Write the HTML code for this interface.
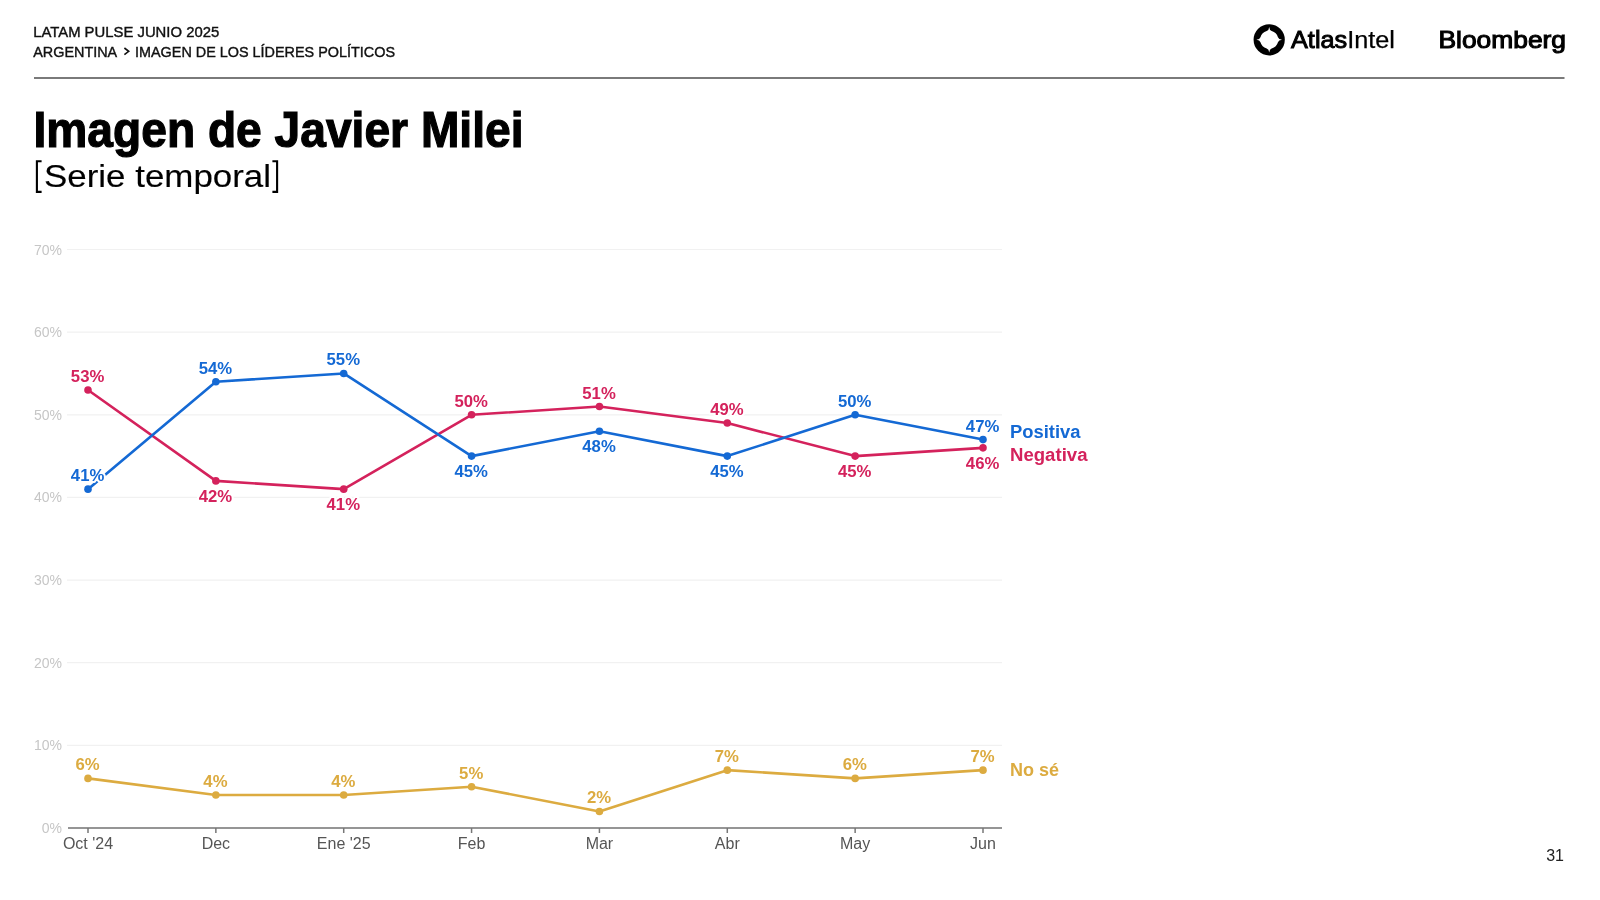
<!DOCTYPE html>
<html><head><meta charset="utf-8">
<style>
html,body{margin:0;padding:0;background:#fff;}
body{width:1600px;height:900px;overflow:hidden;position:relative;font-family:"Liberation Sans",sans-serif;}
svg{position:absolute;left:0;top:0;will-change:transform;}
.hd{font-size:15.2px;fill:#111;stroke:#111;stroke-width:0.4}
.yl{font-size:14px;fill:#c6c6c6;}
.xl{font-size:16px;fill:#555;}
.dl{font-size:16px;font-weight:bold;}
.halo{fill:#fff;stroke:#fff;stroke-width:4;stroke-linejoin:round;}
.lg{font-size:18px;font-weight:bold;}
</style></head>
<body>
<svg width="1600" height="900" viewBox="0 0 1600 900">
<text x="33.2" y="36.8" class="hd" textLength="186" lengthAdjust="spacingAndGlyphs">LATAM PULSE JUNIO 2025</text>
<text x="33.2" y="56.8" class="hd" textLength="84" lengthAdjust="spacingAndGlyphs">ARGENTINA</text>
<polyline points="124.4,48.0 128.7,51.3 124.4,54.6" fill="none" stroke="#111" stroke-width="1.6"/>
<text x="135" y="56.8" class="hd" textLength="260" lengthAdjust="spacingAndGlyphs">IMAGEN DE LOS LÍDERES POLÍTICOS</text>
<rect x="34" y="77" width="1530.5" height="2" fill="#7a7a7a"/>
<text x="33.5" y="147.3" style="font-size:49.5px;font-weight:bold;fill:#000;stroke:#000;stroke-width:1.2" textLength="490" lengthAdjust="spacingAndGlyphs">Imagen de Javier Milei</text>
<path d="M41.6,161.2 H36.9 V191.9 H41.6 M272.4,161.2 H277.1 V191.9 H272.4" fill="none" stroke="#000" stroke-width="2.1"/>
<text x="44" y="187.0" style="font-size:32px;fill:#000;stroke:#000;stroke-width:0.15" textLength="227" lengthAdjust="spacingAndGlyphs">Serie temporal</text>
<!-- AtlasIntel logo -->
<g transform="translate(1269.2,39.8)">
<circle r="15.6" fill="#000"/>
<path d="M0,-12.8 Q0.30,-9.40 2.51,-8.75 A9.1,9.1 0 0 1 8.75,-2.51 Q9.40,-0.30 12.80,0.00 Q9.40,0.30 8.75,2.51 A9.1,9.1 0 0 1 2.51,8.75 Q0.30,9.40 0.00,12.80 Q-0.30,9.40 -2.51,8.75 A9.1,9.1 0 0 1 -8.75,2.51 Q-9.40,0.30 -12.80,0.00 Q-9.40,-0.30 -8.75,-2.51 A9.1,9.1 0 0 1 -2.51,-8.75 Q-0.30,-9.40 0.00,-12.80 Z" fill="#fff"/>
</g>
<text x="1291" y="48" style="font-size:23px;fill:#000" textLength="104" lengthAdjust="spacingAndGlyphs"><tspan style="stroke:#000;stroke-width:0.9">Atlas</tspan><tspan style="stroke:#000;stroke-width:0.25">Intel</tspan></text>
<text x="1438.5" y="47.5" style="font-size:24.5px;fill:#000;stroke:#000;stroke-width:1.1" textLength="127.5" lengthAdjust="spacingAndGlyphs">Bloomberg</text>
<text x="1564" y="861" text-anchor="end" style="font-size:16px;fill:#222">31</text>
<line x1="67" y1="745.36" x2="1002" y2="745.36" stroke="#f1f1f1" stroke-width="1.2"/>
<line x1="67" y1="662.71" x2="1002" y2="662.71" stroke="#f1f1f1" stroke-width="1.2"/>
<line x1="67" y1="580.07" x2="1002" y2="580.07" stroke="#f1f1f1" stroke-width="1.2"/>
<line x1="67" y1="497.43" x2="1002" y2="497.43" stroke="#f1f1f1" stroke-width="1.2"/>
<line x1="67" y1="414.79" x2="1002" y2="414.79" stroke="#f1f1f1" stroke-width="1.2"/>
<line x1="67" y1="332.14" x2="1002" y2="332.14" stroke="#f1f1f1" stroke-width="1.2"/>
<line x1="67" y1="249.50" x2="1002" y2="249.50" stroke="#f1f1f1" stroke-width="1.2"/>
<text x="62" y="833.00" text-anchor="end" class="yl">0%</text>
<text x="62" y="750.36" text-anchor="end" class="yl">10%</text>
<text x="62" y="667.71" text-anchor="end" class="yl">20%</text>
<text x="62" y="585.07" text-anchor="end" class="yl">30%</text>
<text x="62" y="502.43" text-anchor="end" class="yl">40%</text>
<text x="62" y="419.79" text-anchor="end" class="yl">50%</text>
<text x="62" y="337.14" text-anchor="end" class="yl">60%</text>
<text x="62" y="254.50" text-anchor="end" class="yl">70%</text>
<line x1="68" y1="828.0" x2="1002" y2="828.0" stroke="#727272" stroke-width="1.7"/>
<line x1="88.00" y1="828.0" x2="88.00" y2="833.0" stroke="#777" stroke-width="1.5"/>
<text x="88.00" y="848.50" text-anchor="middle" class="xl">Oct '24</text>
<line x1="215.86" y1="828.0" x2="215.86" y2="833.0" stroke="#777" stroke-width="1.5"/>
<text x="215.86" y="848.50" text-anchor="middle" class="xl">Dec</text>
<line x1="343.71" y1="828.0" x2="343.71" y2="833.0" stroke="#777" stroke-width="1.5"/>
<text x="343.71" y="848.50" text-anchor="middle" class="xl">Ene '25</text>
<line x1="471.57" y1="828.0" x2="471.57" y2="833.0" stroke="#777" stroke-width="1.5"/>
<text x="471.57" y="848.50" text-anchor="middle" class="xl">Feb</text>
<line x1="599.43" y1="828.0" x2="599.43" y2="833.0" stroke="#777" stroke-width="1.5"/>
<text x="599.43" y="848.50" text-anchor="middle" class="xl">Mar</text>
<line x1="727.29" y1="828.0" x2="727.29" y2="833.0" stroke="#777" stroke-width="1.5"/>
<text x="727.29" y="848.50" text-anchor="middle" class="xl">Abr</text>
<line x1="855.14" y1="828.0" x2="855.14" y2="833.0" stroke="#777" stroke-width="1.5"/>
<text x="855.14" y="848.50" text-anchor="middle" class="xl">May</text>
<line x1="983.00" y1="828.0" x2="983.00" y2="833.0" stroke="#777" stroke-width="1.5"/>
<text x="983.00" y="848.50" text-anchor="middle" class="xl">Jun</text>
<polyline points="88.00,778.41 215.86,794.94 343.71,794.94 471.57,786.68 599.43,811.47 727.29,770.15 855.14,778.41 983.00,770.15" fill="none" stroke="#dcab40" stroke-width="2.6" stroke-linejoin="round"/>
<circle cx="88.00" cy="778.41" r="3.8" fill="#dcab40"/>
<circle cx="215.86" cy="794.94" r="3.8" fill="#dcab40"/>
<circle cx="343.71" cy="794.94" r="3.8" fill="#dcab40"/>
<circle cx="471.57" cy="786.68" r="3.8" fill="#dcab40"/>
<circle cx="599.43" cy="811.47" r="3.8" fill="#dcab40"/>
<circle cx="727.29" cy="770.15" r="3.8" fill="#dcab40"/>
<circle cx="855.14" cy="778.41" r="3.8" fill="#dcab40"/>
<circle cx="983.00" cy="770.15" r="3.8" fill="#dcab40"/>
<polyline points="88.00,389.99 215.86,480.90 343.71,489.16 471.57,414.79 599.43,406.52 727.29,423.05 855.14,456.11 983.00,447.84" fill="none" stroke="#d4225c" stroke-width="2.6" stroke-linejoin="round"/>
<circle cx="88.00" cy="389.99" r="3.8" fill="#d4225c"/>
<circle cx="215.86" cy="480.90" r="3.8" fill="#d4225c"/>
<circle cx="343.71" cy="489.16" r="3.8" fill="#d4225c"/>
<circle cx="471.57" cy="414.79" r="3.8" fill="#d4225c"/>
<circle cx="599.43" cy="406.52" r="3.8" fill="#d4225c"/>
<circle cx="727.29" cy="423.05" r="3.8" fill="#d4225c"/>
<circle cx="855.14" cy="456.11" r="3.8" fill="#d4225c"/>
<circle cx="983.00" cy="447.84" r="3.8" fill="#d4225c"/>
<polyline points="88.00,489.16 215.86,381.73 343.71,373.46 471.57,456.11 599.43,431.31 727.29,456.11 855.14,414.79 983.00,439.58" fill="none" stroke="#1469d4" stroke-width="2.6" stroke-linejoin="round"/>
<circle cx="88.00" cy="489.16" r="3.8" fill="#1469d4"/>
<circle cx="215.86" cy="381.73" r="3.8" fill="#1469d4"/>
<circle cx="343.71" cy="373.46" r="3.8" fill="#1469d4"/>
<circle cx="471.57" cy="456.11" r="3.8" fill="#1469d4"/>
<circle cx="599.43" cy="431.31" r="3.8" fill="#1469d4"/>
<circle cx="727.29" cy="456.11" r="3.8" fill="#1469d4"/>
<circle cx="855.14" cy="414.79" r="3.8" fill="#1469d4"/>
<circle cx="983.00" cy="439.58" r="3.8" fill="#1469d4"/>
<text transform="translate(87.60,770.41) scale(1.045,1)" text-anchor="middle" class="dl halo">6%</text>
<text transform="translate(87.60,770.41) scale(1.045,1)" text-anchor="middle" class="dl" fill="#dcab40">6%</text>
<text transform="translate(215.46,786.94) scale(1.045,1)" text-anchor="middle" class="dl halo">4%</text>
<text transform="translate(215.46,786.94) scale(1.045,1)" text-anchor="middle" class="dl" fill="#dcab40">4%</text>
<text transform="translate(343.31,786.94) scale(1.045,1)" text-anchor="middle" class="dl halo">4%</text>
<text transform="translate(343.31,786.94) scale(1.045,1)" text-anchor="middle" class="dl" fill="#dcab40">4%</text>
<text transform="translate(471.17,778.68) scale(1.045,1)" text-anchor="middle" class="dl halo">5%</text>
<text transform="translate(471.17,778.68) scale(1.045,1)" text-anchor="middle" class="dl" fill="#dcab40">5%</text>
<text transform="translate(599.03,803.47) scale(1.045,1)" text-anchor="middle" class="dl halo">2%</text>
<text transform="translate(599.03,803.47) scale(1.045,1)" text-anchor="middle" class="dl" fill="#dcab40">2%</text>
<text transform="translate(726.89,762.15) scale(1.045,1)" text-anchor="middle" class="dl halo">7%</text>
<text transform="translate(726.89,762.15) scale(1.045,1)" text-anchor="middle" class="dl" fill="#dcab40">7%</text>
<text transform="translate(854.74,770.41) scale(1.045,1)" text-anchor="middle" class="dl halo">6%</text>
<text transform="translate(854.74,770.41) scale(1.045,1)" text-anchor="middle" class="dl" fill="#dcab40">6%</text>
<text transform="translate(982.60,762.15) scale(1.045,1)" text-anchor="middle" class="dl halo">7%</text>
<text transform="translate(982.60,762.15) scale(1.045,1)" text-anchor="middle" class="dl" fill="#dcab40">7%</text>
<text transform="translate(87.60,381.99) scale(1.045,1)" text-anchor="middle" class="dl halo">53%</text>
<text transform="translate(87.60,381.99) scale(1.045,1)" text-anchor="middle" class="dl" fill="#d4225c">53%</text>
<text transform="translate(215.46,501.60) scale(1.045,1)" text-anchor="middle" class="dl halo">42%</text>
<text transform="translate(215.46,501.60) scale(1.045,1)" text-anchor="middle" class="dl" fill="#d4225c">42%</text>
<text transform="translate(343.31,509.86) scale(1.045,1)" text-anchor="middle" class="dl halo">41%</text>
<text transform="translate(343.31,509.86) scale(1.045,1)" text-anchor="middle" class="dl" fill="#d4225c">41%</text>
<text transform="translate(471.17,406.79) scale(1.045,1)" text-anchor="middle" class="dl halo">50%</text>
<text transform="translate(471.17,406.79) scale(1.045,1)" text-anchor="middle" class="dl" fill="#d4225c">50%</text>
<text transform="translate(599.03,398.52) scale(1.045,1)" text-anchor="middle" class="dl halo">51%</text>
<text transform="translate(599.03,398.52) scale(1.045,1)" text-anchor="middle" class="dl" fill="#d4225c">51%</text>
<text transform="translate(726.89,415.05) scale(1.045,1)" text-anchor="middle" class="dl halo">49%</text>
<text transform="translate(726.89,415.05) scale(1.045,1)" text-anchor="middle" class="dl" fill="#d4225c">49%</text>
<text transform="translate(854.74,476.81) scale(1.045,1)" text-anchor="middle" class="dl halo">45%</text>
<text transform="translate(854.74,476.81) scale(1.045,1)" text-anchor="middle" class="dl" fill="#d4225c">45%</text>
<text transform="translate(982.60,468.54) scale(1.045,1)" text-anchor="middle" class="dl halo">46%</text>
<text transform="translate(982.60,468.54) scale(1.045,1)" text-anchor="middle" class="dl" fill="#d4225c">46%</text>
<text transform="translate(87.60,481.16) scale(1.045,1)" text-anchor="middle" class="dl halo">41%</text>
<text transform="translate(87.60,481.16) scale(1.045,1)" text-anchor="middle" class="dl" fill="#1469d4">41%</text>
<text transform="translate(215.46,373.73) scale(1.045,1)" text-anchor="middle" class="dl halo">54%</text>
<text transform="translate(215.46,373.73) scale(1.045,1)" text-anchor="middle" class="dl" fill="#1469d4">54%</text>
<text transform="translate(343.31,365.46) scale(1.045,1)" text-anchor="middle" class="dl halo">55%</text>
<text transform="translate(343.31,365.46) scale(1.045,1)" text-anchor="middle" class="dl" fill="#1469d4">55%</text>
<text transform="translate(471.17,476.81) scale(1.045,1)" text-anchor="middle" class="dl halo">45%</text>
<text transform="translate(471.17,476.81) scale(1.045,1)" text-anchor="middle" class="dl" fill="#1469d4">45%</text>
<text transform="translate(599.03,452.01) scale(1.045,1)" text-anchor="middle" class="dl halo">48%</text>
<text transform="translate(599.03,452.01) scale(1.045,1)" text-anchor="middle" class="dl" fill="#1469d4">48%</text>
<text transform="translate(726.89,476.81) scale(1.045,1)" text-anchor="middle" class="dl halo">45%</text>
<text transform="translate(726.89,476.81) scale(1.045,1)" text-anchor="middle" class="dl" fill="#1469d4">45%</text>
<text transform="translate(854.74,406.79) scale(1.045,1)" text-anchor="middle" class="dl halo">50%</text>
<text transform="translate(854.74,406.79) scale(1.045,1)" text-anchor="middle" class="dl" fill="#1469d4">50%</text>
<text transform="translate(982.60,431.58) scale(1.045,1)" text-anchor="middle" class="dl halo">47%</text>
<text transform="translate(982.60,431.58) scale(1.045,1)" text-anchor="middle" class="dl" fill="#1469d4">47%</text>
<text x="1010" y="438.4" class="lg" fill="#1469d4" textLength="70.5" lengthAdjust="spacingAndGlyphs">Positiva</text>
<text x="1010" y="460.6" class="lg" fill="#d4225c" textLength="77.5" lengthAdjust="spacingAndGlyphs">Negativa</text>
<text x="1010" y="775.5" class="lg" fill="#dcab40">No sé</text>
</svg>
</body></html>
